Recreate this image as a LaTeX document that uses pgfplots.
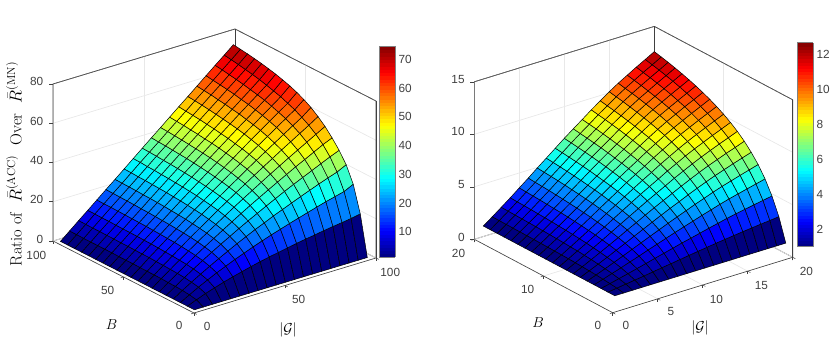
\documentclass[border=0pt]{standalone}
\usepackage{fontspec}
\usepackage{pgfplots}
\pgfplotsset{compat=1.18}
\newfontfamily\hv{Liberation Sans}
\definecolor{axgray}{gray}{0.25}
\pgfplotsset{
  matlabbox/.style={
    colormap/jet,
    grid=major, grid style={gray!18, line width=0.7pt},
    axis line style={axgray, line width=0.6pt},
    tick style={axgray, line width=0.5pt},
    major tick length=3pt,
    tick align=outside, tick pos=left,
    z tick style={draw=none},
    tick label style={font=\fontsize{11.8}{12}\hv, text=axgray},
    xticklabel style={xshift=5.5pt, yshift=-3.5pt},
    yticklabel style={xshift=-6pt, yshift=-3.5pt},
    zticklabel style={xshift=-3.5pt},
    /pgf/number format/assume math mode=true,
    /pgf/number format/1000 sep={},
    clip=false, anchor=origin,
  },
  matlabsurf/.style={
    surf, shader=flat corner, draw=black, line width=0.5pt,
    z buffer=none, mesh/ordering=y varies, mesh/rows=20, mesh/cols=20,
  },
  matlabbar/.style={
    width=16pt, axis line style={gray, line width=0.8pt},
    tick style={draw=none},
    yticklabel style={font=\fontsize{11.8}{12}\hv, text=axgray},
    /pgf/number format/assume math mode=true,
    samples=65,
  },
}
\begin{document}
\begin{tikzpicture}[x=1pt,y=1pt]
\path[use as bounding box] (0,0) rectangle (830,358);
\coordinate (cbL) at (370.5,101);
\coordinate (cbR) at (788.5,111.3);

% left panel
\begin{axis}[matlabbox, at={(194pt,45pt)},
  x={(1.82pt,0.55pt)}, y={(-1.41pt,0.72pt)}, z={(0pt,1.9625pt)},
  xmin=0, xmax=100, ymin=0, ymax=100, zmin=0, zmax=80,
  xtick={0,50,100}, ytick={0,50,100}, ztick={0,20,40,60,80},
  point meta min=1.2, point meta max=74.6,
  colorbar sampled,
  colorbar style={matlabbar, at={(cbL)}, anchor=south west, height=211pt, ytick={10,20,30,40,50,60,70}},
]
\draw[axgray, line width=0.6pt] (axis cs:0,100,0) -- (axis cs:0,100,80) -- (axis cs:100,100,80) -- (axis cs:100,0,80) -- (axis cs:100,0,0);
\draw[axgray, line width=0.6pt] (axis cs:100,100,80) -- (axis cs:100,100,0);
\draw[axgray, line width=0.5pt] (axis cs:0,100,0) -- ++(-4pt,0pt) (axis cs:0,100,20) -- ++(-4pt,0pt) (axis cs:0,100,40) -- ++(-4pt,0pt) (axis cs:0,100,60) -- ++(-4pt,0pt) (axis cs:0,100,80) -- ++(-4pt,0pt);
\addplot3[matlabsurf] coordinates {
(1,1,1)(1,6,1)(1,11,1)(1,16,1)(1,21,1)(1,26,1)(1,31,1)(1,36,1)(1,41,1)(1,46,1)(1,51,1)(1,56,1)(1,61,1)(1,66,1)(1,71,1)(1,76,1)(1,81,1)(1,86,1)(1,91,1)(1,96,1)
(6,1,1)(6,6,2.9)(6,11,3.6)(6,16,4.0)(6,21,4.2)(6,26,4.3)(6,31,4.5)(6,36,4.5)(6,41,4.6)(6,46,4.6)(6,51,4.7)(6,56,4.7)(6,61,4.7)(6,66,4.8)(6,71,4.8)(6,76,4.8)(6,81,4.8)(6,86,4.8)(6,91,4.9)(6,96,4.9)
(11,1,1)(11,6,4.7)(11,11,6.1)(11,16,6.8)(11,21,7.3)(11,26,7.6)(11,31,7.8)(11,36,8.0)(11,41,8.1)(11,46,8.3)(11,51,8.3)(11,56,8.4)(11,61,8.5)(11,66,8.5)(11,71,8.6)(11,76,8.6)(11,81,8.7)(11,86,8.7)(11,91,8.7)(11,96,8.8)
(16,1,1)(16,6,6.2)(16,11,8.4)(16,16,9.5)(16,21,10.3)(16,26,10.8)(16,31,11.1)(16,36,11.4)(16,41,11.6)(16,46,11.8)(16,51,12.0)(16,56,12.1)(16,61,12.2)(16,66,12.3)(16,71,12.3)(16,76,12.4)(16,81,12.5)(16,86,12.5)(16,91,12.6)(16,96,12.6)
(21,1,1)(21,6,7.7)(21,11,10.6)(21,16,12.1)(21,21,13.2)(21,26,13.9)(21,31,14.4)(21,36,14.8)(21,41,15.1)(21,46,15.3)(21,51,15.5)(21,56,15.7)(21,61,15.9)(21,66,16.0)(21,71,16.1)(21,76,16.2)(21,81,16.3)(21,86,16.4)(21,91,16.4)(21,96,16.5)
(26,1,1)(26,6,9.0)(26,11,12.6)(26,16,14.6)(26,21,16.0)(26,26,16.9)(26,31,17.6)(26,36,18.1)(26,41,18.5)(26,46,18.8)(26,51,19.1)(26,56,19.3)(26,61,19.5)(26,66,19.7)(26,71,19.8)(26,76,20.0)(26,81,20.1)(26,86,20.2)(26,91,20.3)(26,96,20.4)
(31,1,1)(31,6,10.2)(31,11,14.6)(31,16,17.0)(31,21,18.7)(31,26,19.8)(31,31,20.7)(31,36,21.3)(31,41,21.8)(31,46,22.3)(31,51,22.6)(31,56,22.9)(31,61,23.2)(31,66,23.4)(31,71,23.6)(31,76,23.7)(31,81,23.9)(31,86,24.0)(31,91,24.1)(31,96,24.2)
(36,1,1)(36,6,11.4)(36,11,16.4)(36,16,19.4)(36,21,21.3)(36,26,22.7)(36,31,23.7)(36,36,24.5)(36,41,25.2)(36,46,25.7)(36,51,26.1)(36,56,26.5)(36,61,26.8)(36,66,27.1)(36,71,27.3)(36,76,27.5)(36,81,27.7)(36,86,27.8)(36,91,28.0)(36,96,28.1)
(41,1,1)(41,6,12.5)(41,11,18.2)(41,16,21.6)(41,21,23.9)(41,26,25.5)(41,31,26.7)(41,36,27.7)(41,41,28.4)(41,46,29.0)(41,51,29.6)(41,56,30.0)(41,61,30.4)(41,66,30.7)(41,71,31.0)(41,76,31.2)(41,81,31.5)(41,86,31.6)(41,91,31.9)(41,96,32.0)
(46,1,1)(46,6,13.5)(46,11,19.9)(46,16,23.8)(46,21,26.4)(46,26,28.3)(46,31,29.7)(46,36,30.8)(46,41,31.7)(46,46,32.4)(46,51,33.0)(46,56,33.5)(46,61,34.0)(46,66,34.4)(46,71,34.7)(46,76,35.0)(46,81,35.2)(46,86,35.5)(46,91,35.7)(46,96,35.9)
(51,1,1)(51,6,14.4)(51,11,21.5)(51,16,25.8)(51,21,28.8)(51,26,31.0)(51,31,32.6)(51,36,33.9)(51,41,34.9)(51,46,35.7)(51,51,36.4)(51,56,37.0)(51,61,37.5)(51,66,38.0)(51,71,38.4)(51,76,38.7)(51,81,39.0)(51,86,39.3)(51,91,39.5)(51,96,39.8)
(56,1,1)(56,6,15.3)(56,11,23.0)(56,16,27.9)(56,21,31.2)(56,26,33.6)(56,31,35.4)(56,36,36.9)(56,41,38.0)(56,46,39.0)(56,51,39.8)(56,56,40.5)(56,61,41.1)(56,66,41.6)(56,71,42.0)(56,76,42.4)(56,81,42.8)(56,86,43.1)(56,91,43.4)(56,96,43.6)
(61,1,1)(61,6,16.2)(61,11,24.5)(61,16,29.8)(61,21,33.5)(61,26,36.2)(61,31,38.2)(61,36,39.9)(61,41,41.2)(61,46,42.2)(61,51,43.1)(61,56,43.9)(61,61,44.6)(61,66,45.2)(61,71,45.6)(61,76,46.1)(61,81,46.5)(61,86,46.9)(61,91,47.2)(61,96,47.5)
(66,1,1)(66,6,17.0)(66,11,25.9)(66,16,31.7)(66,21,35.8)(66,26,38.7)(66,31,41.0)(66,36,42.8)(66,41,44.3)(66,46,45.5)(66,51,46.5)(66,56,47.3)(66,61,48.1)(66,66,48.7)(66,71,49.3)(66,76,49.8)(66,81,50.3)(66,86,50.7)(66,91,51.0)(66,96,51.4)
(71,1,1)(71,6,17.7)(71,11,27.3)(71,16,33.6)(71,21,38.0)(71,26,41.2)(71,31,43.7)(71,36,45.7)(71,41,47.3)(71,46,48.7)(71,51,49.8)(71,56,50.8)(71,61,51.6)(71,66,52.3)(71,71,52.9)(71,76,53.5)(71,81,54.0)(71,86,54.5)(71,91,54.9)(71,96,55.2)
(76,1,1)(76,6,18.5)(76,11,28.7)(76,16,35.4)(76,21,40.1)(76,26,43.7)(76,31,46.4)(76,36,48.6)(76,41,50.3)(76,46,51.8)(76,51,53.1)(76,56,54.1)(76,61,55.0)(76,66,55.9)(76,71,56.5)(76,76,57.2)(76,81,57.7)(76,86,58.3)(76,91,58.7)(76,96,59.1)
(81,1,1)(81,6,19.2)(81,11,30.0)(81,16,37.2)(81,21,42.2)(81,26,46.0)(81,31,49.0)(81,36,51.4)(81,41,53.3)(81,46,55.0)(81,51,56.3)(81,56,57.5)(81,61,58.5)(81,66,59.4)(81,71,60.1)(81,76,60.9)(81,81,61.5)(81,86,62.0)(81,91,62.5)(81,96,63.0)
(86,1,1)(86,6,19.8)(86,11,31.2)(86,16,38.9)(86,21,44.3)(86,26,48.4)(86,31,51.6)(86,36,54.2)(86,41,56.3)(86,46,58.1)(86,51,59.5)(86,56,60.8)(86,61,62.0)(86,66,62.9)(86,71,63.7)(86,76,64.5)(86,81,65.2)(86,86,65.8)(86,91,66.4)(86,96,66.9)
(91,1,1)(91,6,20.5)(91,11,32.4)(91,16,40.5)(91,21,46.4)(91,26,50.8)(91,31,54.2)(91,36,57.0)(91,41,59.2)(91,46,61.2)(91,51,62.7)(91,56,64.2)(91,61,65.3)(91,66,66.4)(91,71,67.4)(91,76,68.2)(91,81,68.9)(91,86,69.6)(91,91,70.2)(91,96,70.7)
(96,1,1)(96,6,21.4)(96,11,34.7)(96,16,42.8)(96,21,48.3)(96,26,52.8)(96,31,56.8)(96,36,60.0)(96,41,62.8)(96,46,65.0)(96,51,66.8)(96,56,68.3)(96,61,69.5)(96,66,70.6)(96,71,71.5)(96,76,72.3)(96,81,73.0)(96,86,73.6)(96,91,74.1)(96,96,74.6)
};
\end{axis}

% right panel
\begin{axis}[matlabbox, at={(612.7pt,45.3pt)},
  x={(9pt,2.77pt)}, y={(-6.92pt,3.67pt)}, z={(0pt,10.5pt)},
  xmin=0, xmax=20, ymin=0, ymax=20, zmin=0, zmax=15,
  xtick={0,5,10,15,20}, ytick={0,10,20}, ztick={0,5,10,15},
  point meta min=1, point meta max=12.64,
  colorbar sampled,
  colorbar style={matlabbar, at={(cbR)}, anchor=south west, height=204pt, ytick={2,4,6,8,10,12}},
]
\draw[axgray, line width=0.6pt] (axis cs:0,20,0) -- (axis cs:0,20,15) -- (axis cs:20,20,15) -- (axis cs:20,0,15) -- (axis cs:20,0,0);
\draw[axgray, line width=0.6pt] (axis cs:20,20,15) -- (axis cs:20,20,0);
\draw[axgray, line width=0.5pt] (axis cs:0,20,0) -- ++(-4pt,0pt) (axis cs:0,20,5) -- ++(-4pt,0pt) (axis cs:0,20,10) -- ++(-4pt,0pt) (axis cs:0,20,15) -- ++(-4pt,0pt);
\addplot3[matlabsurf] coordinates {
(1,1,1)(1,2,1)(1,3,1)(1,4,1)(1,5,1)(1,6,1)(1,7,1)(1,8,1)(1,9,1)(1,10,1)(1,11,1)(1,12,1)(1,13,1)(1,14,1)(1,15,1)(1,16,1)(1,17,1)(1,18,1)(1,19,1)(1,20,1)
(2,1,1)(2,2,1.12)(2,3,1.20)(2,4,1.27)(2,5,1.33)(2,6,1.37)(2,7,1.41)(2,8,1.44)(2,9,1.47)(2,10,1.49)(2,11,1.51)(2,12,1.53)(2,13,1.54)(2,14,1.56)(2,15,1.57)(2,16,1.58)(2,17,1.59)(2,18,1.60)(2,19,1.61)(2,20,1.62)
(3,1,1)(3,2,1.24)(3,3,1.41)(3,4,1.55)(3,5,1.66)(3,6,1.75)(3,7,1.83)(3,8,1.89)(3,9,1.95)(3,10,1.99)(3,11,2.03)(3,12,2.07)(3,13,2.10)(3,14,2.13)(3,15,2.16)(3,16,2.18)(3,17,2.20)(3,18,2.22)(3,19,2.24)(3,20,2.26)
(4,1,1)(4,2,1.36)(4,3,1.62)(4,4,1.83)(4,5,2.00)(4,6,2.13)(4,7,2.25)(4,8,2.34)(4,9,2.43)(4,10,2.50)(4,11,2.56)(4,12,2.62)(4,13,2.66)(4,14,2.71)(4,15,2.75)(4,16,2.78)(4,17,2.82)(4,18,2.85)(4,19,2.87)(4,20,2.90)
(5,1,1)(5,2,1.48)(5,3,1.84)(5,4,2.13)(5,5,2.35)(5,6,2.54)(5,7,2.69)(5,8,2.82)(5,9,2.94)(5,10,3.03)(5,11,3.12)(5,12,3.19)(5,13,3.26)(5,14,3.32)(5,15,3.37)(5,16,3.42)(5,17,3.47)(5,18,3.51)(5,19,3.54)(5,20,3.58)
(6,1,1)(6,2,1.61)(6,3,2.06)(6,4,2.42)(6,5,2.71)(6,6,2.94)(6,7,3.13)(6,8,3.30)(6,9,3.44)(6,10,3.56)(6,11,3.67)(6,12,3.76)(6,13,3.85)(6,14,3.92)(6,15,3.99)(6,16,4.05)(6,17,4.11)(6,18,4.16)(6,19,4.20)(6,20,4.25)
(7,1,1)(7,2,1.74)(7,3,2.29)(7,4,2.73)(7,5,3.07)(7,6,3.35)(7,7,3.59)(7,8,3.79)(7,9,3.96)(7,10,4.11)(7,11,4.24)(7,12,4.36)(7,13,4.46)(7,14,4.55)(7,15,4.63)(7,16,4.71)(7,17,4.78)(7,18,4.84)(7,19,4.89)(7,20,4.95)
(8,1,1)(8,2,1.86)(8,3,2.51)(8,4,3.02)(8,5,3.43)(8,6,3.75)(8,7,4.03)(8,8,4.27)(8,9,4.47)(8,10,4.64)(8,11,4.79)(8,12,4.93)(8,13,5.05)(8,14,5.15)(8,15,5.25)(8,16,5.34)(8,17,5.42)(8,18,5.49)(8,19,5.56)(8,20,5.62)
(9,1,1)(9,2,1.99)(9,3,2.73)(9,4,3.32)(9,5,3.78)(9,6,4.16)(9,7,4.48)(9,8,4.75)(9,9,4.98)(9,10,5.18)(9,11,5.35)(9,12,5.51)(9,13,5.64)(9,14,5.76)(9,15,5.88)(9,16,5.98)(9,17,6.07)(9,18,6.15)(9,19,6.23)(9,20,6.30)
(10,1,1)(10,2,2.12)(10,3,2.96)(10,4,3.61)(10,5,4.14)(10,6,4.56)(10,7,4.92)(10,8,5.23)(10,9,5.49)(10,10,5.71)(10,11,5.91)(10,12,6.08)(10,13,6.24)(10,14,6.38)(10,15,6.50)(10,16,6.62)(10,17,6.72)(10,18,6.81)(10,19,6.90)(10,20,6.98)
(11,1,1)(11,2,2.24)(11,3,3.16)(11,4,3.89)(11,5,4.48)(11,6,4.95)(11,7,5.34)(11,8,5.68)(11,9,5.97)(11,10,6.22)(11,11,6.44)(11,12,6.63)(11,13,6.80)(11,14,6.95)(11,15,7.09)(11,16,7.22)(11,17,7.33)(11,18,7.43)(11,19,7.53)(11,20,7.62)
(12,1,1)(12,2,2.36)(12,3,3.37)(12,4,4.17)(12,5,4.81)(12,6,5.32)(12,7,5.76)(12,8,6.13)(12,9,6.44)(12,10,6.71)(12,11,6.95)(12,12,7.16)(12,13,7.35)(12,14,7.52)(12,15,7.67)(12,16,7.81)(12,17,7.93)(12,18,8.05)(12,19,8.15)(12,20,8.25)
(13,1,1)(13,2,2.48)(13,3,3.58)(13,4,4.45)(13,5,5.15)(13,6,5.71)(13,7,6.18)(13,8,6.59)(13,9,6.93)(13,10,7.23)(13,11,7.49)(13,12,7.72)(13,13,7.92)(13,14,8.10)(13,15,8.27)(13,16,8.42)(13,17,8.55)(13,18,8.68)(13,19,8.79)(13,20,8.90)
(14,1,1)(14,2,2.59)(14,3,3.78)(14,4,4.71)(14,5,5.46)(14,6,6.07)(14,7,6.58)(14,8,7.01)(14,9,7.38)(14,10,7.70)(14,11,7.98)(14,12,8.23)(14,13,8.45)(14,14,8.64)(14,15,8.82)(14,16,8.98)(14,17,9.13)(14,18,9.26)(14,19,9.38)(14,20,9.50)
(15,1,1)(15,2,2.70)(15,3,3.98)(15,4,4.98)(15,5,5.78)(15,6,6.42)(15,7,6.97)(15,8,7.43)(15,9,7.83)(15,10,8.17)(15,11,8.47)(15,12,8.74)(15,13,8.97)(15,14,9.18)(15,15,9.37)(15,16,9.55)(15,17,9.70)(15,18,9.85)(15,19,9.97)(15,20,10.10)
(16,1,1)(16,2,2.80)(16,3,4.16)(16,4,5.22)(16,5,6.07)(16,6,6.75)(16,7,7.33)(16,8,7.82)(16,9,8.24)(16,10,8.60)(16,11,8.92)(16,12,9.20)(16,13,9.45)(16,14,9.68)(16,15,9.88)(16,16,10.06)(16,17,10.23)(16,18,10.38)(16,19,10.51)(16,20,10.65)
(17,1,1)(17,2,2.90)(17,3,4.32)(17,4,5.44)(17,5,6.33)(17,6,7.05)(17,7,7.66)(17,8,8.18)(17,9,8.61)(17,10,9.00)(17,11,9.33)(17,12,9.63)(17,13,9.89)(17,14,10.13)(17,15,10.34)(17,16,10.53)(17,17,10.70)(17,18,10.87)(17,19,11.01)(17,20,11.15)
(18,1,1)(18,2,2.99)(18,3,4.48)(18,4,5.65)(18,5,6.59)(18,6,7.35)(18,7,7.99)(18,8,8.53)(18,9,8.99)(18,10,9.39)(18,11,9.74)(18,12,10.05)(18,13,10.33)(18,14,10.57)(18,15,10.80)(18,16,11.00)(18,17,11.18)(18,18,11.35)(18,19,11.50)(18,20,11.65)
(19,1,1)(19,2,3.08)(19,3,4.64)(19,4,5.86)(19,5,6.84)(19,6,7.63)(19,7,8.29)(19,8,8.86)(19,9,9.34)(19,10,9.76)(19,11,10.13)(19,12,10.45)(19,13,10.74)(19,14,11.00)(19,15,11.23)(19,16,11.44)(19,17,11.63)(19,18,11.81)(19,19,11.96)(19,20,12.12)
(20,1,1)(20,2,3.17)(20,3,4.79)(20,4,6.07)(20,5,7.09)(20,6,7.91)(20,7,8.61)(20,8,9.20)(20,9,9.70)(20,10,10.14)(20,11,10.52)(20,12,10.86)(20,13,11.16)(20,14,11.43)(20,15,11.67)(20,16,11.89)(20,17,12.09)(20,18,12.28)(20,19,12.44)(20,20,12.60)
};
\end{axis}

\node[rotate=90] at (14,194) {\fontsize{16.5}{18}\selectfont Ratio of\ \ $\bar{R}^{(\mathrm{ACC})}$\ \ Over\ \ $\bar{R}^{(\mathrm{MN})}$};
\node at (111.5,33) {\fontsize{15.5}{18}\selectfont $B$};
\node at (288,28) {\fontsize{15.5}{18}\selectfont $|\mathcal{G}|$};
\node at (538,35) {\fontsize{15.5}{18}\selectfont $B$};
\node at (700,30) {\fontsize{15.5}{18}\selectfont $|\mathcal{G}|$};
\end{tikzpicture}
\end{document}
